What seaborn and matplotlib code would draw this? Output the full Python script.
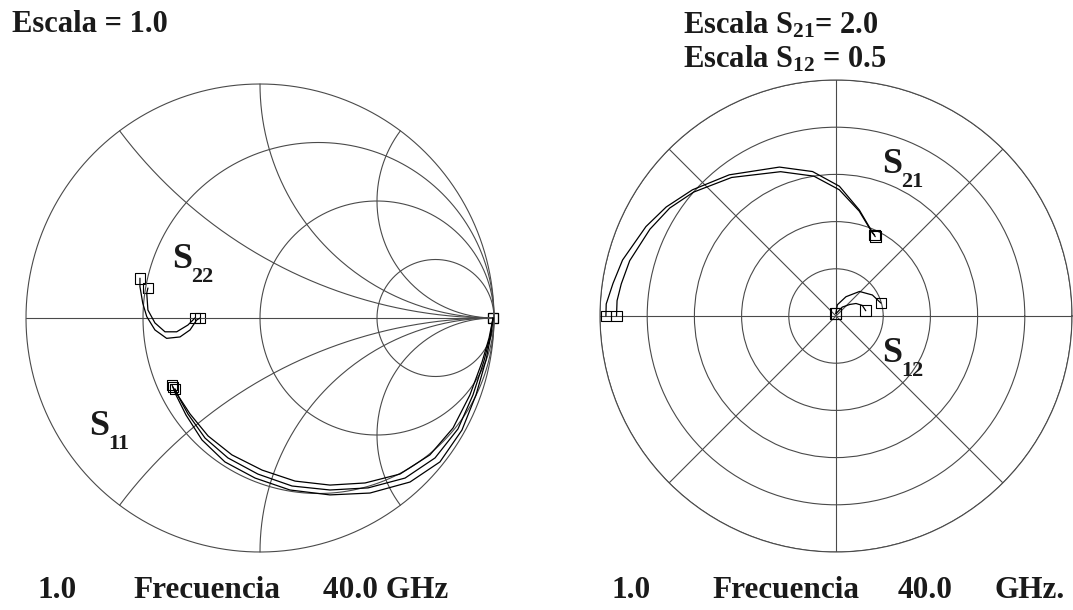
import numpy as np
import pandas as pd
import matplotlib
matplotlib.use("Agg")
import matplotlib.pyplot as plt
import seaborn as sns

# ---------------- data ----------------
# Smith chart: reflection coefficients (real, imag), 1.0 -> 40.0 GHz
S11_RE = [
    [0.996, 0.987, 0.966, 0.923, 0.863, 0.769, 0.641, 0.470, 0.299, 0.128, -0.021, -0.150, -0.248, -0.316, -0.359, -0.376],
    [0.996, 0.983, 0.957, 0.910, 0.846, 0.748, 0.620, 0.462, 0.299, 0.137, -0.009, -0.137, -0.235, -0.308, -0.350, -0.372],
    [0.996, 0.979, 0.949, 0.897, 0.825, 0.726, 0.598, 0.449, 0.299, 0.150, 0.009, -0.120, -0.222, -0.299, -0.346, -0.363],
]
S11_IM = [
    [0.0, -0.073, -0.179, -0.329, -0.479, -0.615, -0.701, -0.748, -0.756, -0.735, -0.684, -0.615, -0.521, -0.415, -0.329, -0.286],
    [0.0, -0.081, -0.184, -0.329, -0.474, -0.598, -0.684, -0.726, -0.735, -0.718, -0.667, -0.598, -0.513, -0.410, -0.333, -0.295],
    [0.0, -0.085, -0.188, -0.329, -0.470, -0.585, -0.667, -0.705, -0.714, -0.697, -0.650, -0.585, -0.504, -0.410, -0.338, -0.303],
]
S22_RE = [
    [-0.256, -0.271, -0.299, -0.342, -0.399, -0.449, -0.484, -0.501, -0.513, -0.513],
    [-0.278, -0.308, -0.356, -0.406, -0.449, -0.479, -0.484, -0.479],
]
S22_IM = [
    [0.0, -0.009, -0.051, -0.081, -0.087, -0.051, 0.006, 0.063, 0.134, 0.170],
    [0.0, -0.030, -0.059, -0.059, -0.021, 0.034, 0.106, 0.128],
]

# Polar chart: magnitude and phase (deg), 1.0 -> 40.0 GHz
ESCALA_S21 = 2.0
ESCALA_S12 = 0.5
S21_ANG = [
    [180, 177, 171.7, 165.3, 154.8, 147.3, 138.7, 127.1, 110.8, 99.2, 88.5, 77.6, 66.1, 63.7],
    [180, 176, 171.5, 165, 155, 147, 139, 127, 111, 99, 88.5, 77.5, 66.5, 64.5],
]
S21_MAG = [
    [1.95, 1.95, 1.91, 1.87, 1.78, 1.71, 1.62, 1.50, 1.35, 1.24, 1.10, 0.92, 0.77, 0.75],
    [1.86, 1.86, 1.84, 1.81, 1.74, 1.68, 1.60, 1.47, 1.31, 1.20, 1.07, 0.91, 0.77, 0.76],
]
S12_ANG = [
    [95, 83, 62.6, 46.2, 30, 16.1],
    [90, 55, 40, 32, 22, 10],
]
S12_MAG = [
    [0.005, 0.024, 0.046, 0.072, 0.089, 0.099],
    [0.005, 0.023, 0.038, 0.050, 0.060, 0.064],
]

R_CIRCLES = [1 / 3, 1.0, 3.0]
X_ARCS = [0.5, 1.0, 2.0]


def smith_df(re_lists, im_lists, name):
    rows = []
    for k, (re, im) in enumerate(zip(re_lists, im_lists)):
        for i, (a, b) in enumerate(zip(re, im)):
            rows.append({"trace": f"{name}_{k}", "i": i, "x": a, "y": b})
    return pd.DataFrame(rows)


def polar_df(ang_lists, mag_lists, scale, name):
    rows = []
    for k, (ang, mag) in enumerate(zip(ang_lists, mag_lists)):
        for i, (a, m) in enumerate(zip(ang, mag)):
            rows.append({"trace": f"{name}_{k}", "i": i,
                         "x": np.deg2rad(a), "y": m / scale})
    return pd.DataFrame(rows)


def ends(df):
    g = df.groupby("trace")
    return pd.concat([g.head(1), g.tail(1)])


sns.set_theme(style="white")
plt.rcParams["font.family"] = ["Liberation Serif", "DejaVu Serif"]
plt.rcParams["font.weight"] = "bold"
plt.rcParams["mathtext.fontset"] = "custom"
plt.rcParams["mathtext.rm"] = "Liberation Serif:bold"
plt.rcParams["mathtext.it"] = "Liberation Serif:bold"
plt.rcParams["mathtext.bf"] = "Liberation Serif:bold"

W, H = 1073, 610
fig = plt.figure(figsize=(W / 100, H / 100), dpi=100)
fig.patch.set_facecolor("white")

GRID = "#4a4a4a"
GLW = 0.8

# ---------------- Smith chart ----------------
cx, cy, R = 260, 318, 234
ax1 = fig.add_axes([(cx - R) / W, (H - cy - R) / H, 2 * R / W, 2 * R / H])
ax1.set_xlim(-1, 1)
ax1.set_ylim(-1, 1)
ax1.axis("off")

t = np.linspace(0, 2 * np.pi, 600)
ax1.plot(np.cos(t), np.sin(t), color=GRID, lw=GLW, clip_on=False)
for r in R_CIRCLES:
    c, rad = r / (1 + r), 1 / (1 + r)
    ax1.plot(c + rad * np.cos(t), rad * np.sin(t), color=GRID, lw=GLW, clip_on=False)
rr = np.concatenate([np.linspace(0, 1, 200), np.logspace(0, 4, 300)])
for xv in X_ARCS:
    for s in (1, -1):
        z = rr + 1j * s * xv
        g = (z - 1) / (z + 1)
        ax1.plot(g.real, g.imag, color=GRID, lw=GLW, clip_on=False)
ax1.plot([-1, 1], [0, 0], color=GRID, lw=GLW, clip_on=False)

d11 = smith_df(S11_RE, S11_IM, "S11")
d22 = smith_df(S22_RE, S22_IM, "S22")
for d in (d11, d22):
    sns.lineplot(data=d, x="x", y="y", units="trace", estimator=None, sort=False,
                 color="black", lw=0.9, ax=ax1, legend=False)
    sns.scatterplot(data=ends(d), x="x", y="y", marker="s", s=60,
                    facecolors="none", edgecolors="black", linewidths=0.8,
                    ax=ax1, legend=False, clip_on=False)
ax1.set_xlim(-1, 1)
ax1.set_ylim(-1, 1)

# ---------------- Polar chart ----------------
pcx, pcy, PR = 836, 316, 236
ax2 = fig.add_axes([(pcx - PR) / W, (H - pcy - PR) / H, 2 * PR / W, 2 * PR / H],
                   projection="polar")
d21 = polar_df(S21_ANG, S21_MAG, ESCALA_S21, "S21")
d12 = polar_df(S12_ANG, S12_MAG, ESCALA_S12, "S12")
for d in (d21, d12):
    sns.lineplot(data=d, x="x", y="y", units="trace", estimator=None, sort=False,
                 color="black", lw=0.9, ax=ax2, legend=False)
    sns.scatterplot(data=ends(d), x="x", y="y", marker="s", s=60,
                    facecolors="none", edgecolors="black", linewidths=0.8,
                    ax=ax2, legend=False, clip_on=False)
ax2.set_ylim(0, 1)
ax2.set_yticks([0.2, 0.4, 0.6, 0.8, 1.0])
ax2.set_xticks(np.deg2rad(np.arange(0, 360, 45)))
ax2.set_xticklabels([])
ax2.set_yticklabels([])
ax2.set_xlabel("")
ax2.set_ylabel("")
ax2.grid(True, color=GRID, lw=GLW, ls="-")
ax2.spines["polar"].set_color(GRID)
ax2.spines["polar"].set_linewidth(GLW)
ax2.set_facecolor("white")


# ---------------- texts ----------------
def ftext(x, y, s, size, **kw):
    fig.text(x / W, 1 - y / H, s, fontsize=size, fontweight="bold",
             ha="left", va="baseline", color="#1a1a1a", **kw)


ftext(12, 32, "Escala = 1.0", 22)
ftext(683, 33, r"Escala S$_{21}$= 2.0", 22)
ftext(683, 68, r"Escala S$_{12}$ = 0.5", 22)

for (sx, sy, sub) in [(172, 268, "22"), (89, 435, "11"), (882, 173, "21"), (882, 362, "12")]:
    ftext(sx, sy, "S", 26)
    ftext(sx + 19, sy + 14, sub, 16)

for (x, s) in [(38, "1.0"), (133, "Frecuencia"), (323, "40.0 GHz"),
               (612, "1.0"), (712, "Frecuencia"), (898, "40.0"), (995, "GHz.")]:
    ftext(x, 598, s, 22.5)

fig.savefig("out.png", dpi=100, facecolor="white")
